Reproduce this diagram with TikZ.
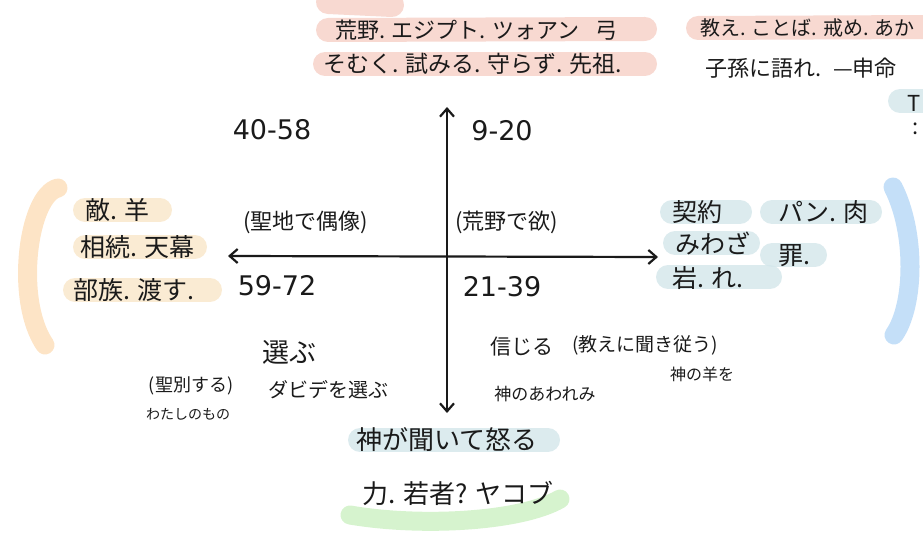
\documentclass[tikz,border=0pt]{standalone}
\usepackage{fontspec}
\setmainfont{Noto Sans CJK JP}
\newfontfamily\numfont{DejaVu Sans}
\usetikzlibrary{arrows.meta}
\definecolor{pinkhl}{HTML}{F6CFC6}
\definecolor{beigehl}{HTML}{F9E6C8}
\definecolor{tealhl}{HTML}{D3E6EA}
\definecolor{orangebr}{HTML}{FDE4C6}
\definecolor{bluebr}{HTML}{C4DFF8}
\definecolor{greenbr}{HTML}{D6F3CE}
\definecolor{ink}{HTML}{1A1A1A}
\tikzset{
  hl/.style={line width=24pt, line cap=round, opacity=0.8},
  bracket/.style={line width=19pt, line cap=round},
  jt/.style={font=\fontsize{22}{22}\selectfont, inner sep=0pt, anchor=west, text=ink},
  jsm/.style={font=\fontsize{16}{16}\selectfont, inner sep=0pt, text=ink},
  numlbl/.style={font=\numfont\fontsize{27}{27}\selectfont, inner sep=0pt, text=ink},
  axis/.style={line width=2.2pt, draw=ink, {Straight Barb[length=8pt,width=14pt]}-{Straight Barb[length=8pt,width=14pt]}}
}
\begin{document}
\begin{tikzpicture}[x=1pt,y=-1pt]
\useasboundingbox (0,0) rectangle (923,540);
% highlights
\draw[hl,pinkhl] (328,2) -- (392,5);
\draw[hl,pinkhl] (328,30) -- (645,29);
\draw[hl,pinkhl] (325,64) -- (645,64);
\draw[hl,pinkhl] (698,28) -- (930,27);
\draw[hl,beigehl] (85,210) -- (160,210);
\draw[hl,beigehl] (85,247) -- (195,247);
\draw[hl,beigehl] (75,290) -- (210,290);
\draw[hl,tealhl] (672,212) -- (740,212);
\draw[hl,tealhl] (772,212) -- (870,212);
\draw[hl,tealhl] (675,243) -- (748,243);
\draw[hl,tealhl] (772,255) -- (815,255);
\draw[hl,tealhl] (668,277) -- (770,277);
\draw[hl,tealhl] (900,101) -- (930,101);
\draw[hl,tealhl] (360,440) -- (548,440);
% brackets
\draw[bracket,orangebr] (58,188) .. controls (28,195) and (14,300) .. (45,345);
\draw[bracket,bluebr] (893,187) .. controls (916,232) and (915,305) .. (894,335);
\draw[bracket,greenbr] (350,515) .. controls (420,527) and (520,522) .. (560,499);
% axes
\coordinate (vtop) at (447,107);
\coordinate (vbot) at (447,413);
\coordinate (hleft) at (228,256);
\coordinate (hright) at (658,257);
\draw[axis] (vtop) -- (vbot);
\draw[axis] (hleft) -- (hright);
% quadrant numbers
\node[numlbl] (q1) at (272,130) {40-58};
\node[numlbl] (q2) at (502,131) {9-20};
\node[numlbl] (q3) at (277,286) {59-72};
\node[numlbl] (q4) at (502,287) {21-39};
\node[jt,font=\fontsize{22}{22}\selectfont] (p1) at (243,222) {(聖地で偶像)};
\node[jt,font=\fontsize{22}{22}\selectfont] (p2) at (455,222) {(荒野で欲)};
% top
\node[jt] (t1) at (335,30) {荒野. エジプト. ツォアン\hspace{16pt}弓};
\node[jt,font=\fontsize{23}{23}\selectfont] (t2) at (323,64) {そむく. 試みる. 守らず. 先祖.};
\node[jt,font=\fontsize{20}{20}\selectfont] (tr1) at (700,28) {教え. ことば. 戒め. あか};
\node[jt] (tr2) at (705,68) {子孫に語れ.\hspace{12pt}—申命};
\node[jt] (tr3) at (907,103) {T};
\node[jt] (tr4) at (912,129) {:};
% left
\node[jt,font=\fontsize{25}{25}\selectfont] (l1) at (85,210) {敵. 羊};
\node[jt,font=\fontsize{25}{25}\selectfont] (l2) at (80,247) {相続. 天幕};
\node[jt,font=\fontsize{25}{25}\selectfont] (l3) at (73,290) {部族. 渡す.};
% right
\node[jt,font=\fontsize{25}{25}\selectfont] (r1) at (672,212) {契約};
\node[jt,font=\fontsize{25}{25}\selectfont] (r2) at (778,212) {パン. 肉};
\node[jt,font=\fontsize{25}{25}\selectfont] (r3) at (675,243) {みわざ};
\node[jt,font=\fontsize{25}{25}\selectfont] (r4) at (778,256) {罪.};
\node[jt,font=\fontsize{25}{25}\selectfont] (r5) at (672,278) {岩. れ.};
% bottom left
\node[jt,font=\fontsize{27}{27}\selectfont] (b1) at (262,352) {選ぶ};
\node[jsm,font=\fontsize{18}{18}\selectfont] (b2) at (191,386) {(聖別する)};
\node[jsm,font=\fontsize{14}{14}\selectfont] (b3) at (188,414) {わたしのもの};
\node[jt,font=\fontsize{20}{20}\selectfont] (b4) at (268,390) {ダビデを選ぶ};
% bottom right
\node[jt,font=\fontsize{21}{21}\selectfont] (c1) at (490,347) {信じる};
\node[jt,font=\fontsize{19}{19}\selectfont] (c2) at (572,345) {(教えに聞き従う)};
\node[jsm] (c3) at (702,374) {神の羊を};
\node[jsm,font=\fontsize{17}{17}\selectfont] (c4) at (545,394) {神のあわれみ};
% bottom
\node[jt,font=\fontsize{26}{26}\selectfont] (d1) at (356,440) {神が聞いて怒る};
\node[jt,font=\fontsize{26}{26}\selectfont] (d2) at (362,493) {力. 若者?\hspace{8pt}ヤコブ};
\end{tikzpicture}
\end{document}
